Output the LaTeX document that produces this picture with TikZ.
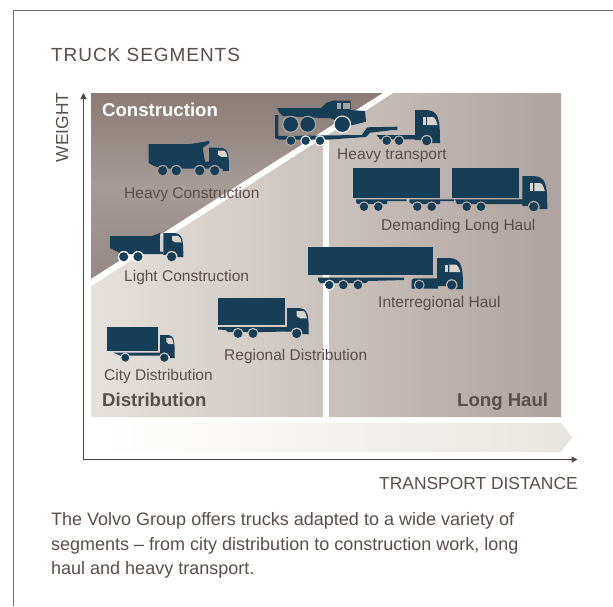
\documentclass[tikz,border=0pt]{standalone}
\usepackage{fontspec}
\setmainfont{Liberation Sans}
\usetikzlibrary{arrows.meta}
\definecolor{truckblue}{HTML}{163E57}
\definecolor{inktext}{HTML}{5A4E4C}
\definecolor{glasscol}{HTML}{D9D3CF}
\definecolor{palepanel}{HTML}{E6E1DC}
\definecolor{darkpanel}{HTML}{AEA39E}
\definecolor{bandend}{HTML}{E8E5DF}
\newcommand{\ringwheel}[4]{\fill[#4] (#1,#2) circle ({#3+1.2pt}); \fill[truckblue] (#1,#2) circle (#3);}
\newcommand{\wheel}[3]{\pgfmathtruncatemacro{\panelmix}{(561-#1)/4.7}\colorlet{ringcol}{palepanel!\panelmix!darkpanel}\ringwheel{#1}{#2}{#3}{ringcol}}
\tikzset{
	lab/.style={anchor=base west,inner sep=0pt,text=inktext,font=\fontsize{15.5}{18}\selectfont},
	head/.style={lab,font=\fontsize{18.6}{22}\bfseries\selectfont},
	axislab/.style={lab,font=\fontsize{17.4}{20}\selectfont},
	bodytext/.style={lab,font=\fontsize{18}{22}\selectfont},
	axisline/.style={draw=inktext!90!black,line width=1.1pt,-{Triangle[length=6pt,width=6pt]}},
	pics/cabin/.style={code={
		\fill[truckblue] (0,0) -- (10,0) .. controls (17,0) and (21,2) .. (23,8) .. controls (24.5,13) and (25,18) .. (25,33) -- (17,33) -- (17,30) -- (0,30) -- cycle;
		\fill[glasscol] (7.5,7) -- (10.5,7) -- (10.5,15) -- (7.5,15) -- cycle;
		\fill[glasscol] (12,7) -- (17,7) .. controls (20,7) and (21,10) .. (22.5,15) -- (12,15) -- cycle;
	}},
	pics/smallcabin/.style={code={
		\fill[truckblue] (0,0) -- (12,0) .. controls (18,0) and (22,2) .. (23.5,8) .. controls (24.5,13) and (25,18) .. (25,33) -- (17,33) -- (17,30) -- (0,30) -- cycle;
		\fill[glasscol] (11,4) -- (19,4) .. controls (21,4) and (21.5,8) .. (23,13) -- (15,13) -- (11,10) -- cycle;
	}},
}
\begin{document}
\begin{tikzpicture}[x=1pt,y=-1pt]
	\useasboundingbox (0,0) rectangle (613,606);
	\fill[white] (0,0) rectangle (613,606);
	\draw[color=black!55,line width=1pt] (613,10.5) -- (13.5,10.5) -- (13.5,606);

	% background
	\shade[left color=white,right color=bandend] (103,423) -- (561,423) -- (572,437.5) -- (561,452) -- (103,452) -- cycle;
	\shade[left color=palepanel,right color=darkpanel] (91,286) -- (393,93) -- (561,93) -- (561,417) -- (91,417) -- cycle;
	\shade[top color={rgb,255:red,138;green,123;blue,118},bottom color={rgb,255:red,148;green,136;blue,131},middle color={rgb,255:red,165;green,155;blue,151}] (91,93) -- (383,93) -- (91,279) -- cycle;
	\fill[white] (91,279) -- (383,93) -- (393,93) -- (91,286) -- cycle;
	\fill[white] (323,136) rectangle (329,417);

	\draw[axisline] (83.5,460) -- (83.5,93);
	\draw[axisline] (83,459.5) -- (577.5,459.5);

	% heavy construction
	\fill[truckblue] (148.7,144) -- (190,144) -- (209,141) -- (209.3,143) -- (202.7,148) -- (205,161.5) -- (209,161.5) -- (209,168.5) -- (160,168.5) -- (152,165) -- (148.7,163) -- cycle;
	\pic[xscale=.8,yscale=.7] at (209,147.7) {smallcabin};
	\foreach \x in {162.7,176.3,199.7,214.7} {\ringwheel{\x}{170.7}{4.6pt}{fill={rgb,255:red,166;green,156;blue,152}}}

	% light construction
	\fill[truckblue] (110,236) -- (152,236) -- (160,233) -- (160,251.5) -- (163,251.5) -- (163,254) -- (122,254) -- (114,250) -- (110,248) -- cycle;
	\fill[glasscol] (160,235) rectangle (163.3,251);
	\pic[xscale=.8,yscale=.73] at (163.3,233) {smallcabin};
	\ringwheel{123.7}{256.7}{4.6pt}{fill=white}
	\ringwheel{138}{256.7}{4.6pt}{fill=white}
	\wheel{171.7}{256.7}{4.6pt}

	% heavy transport
	\fill[truckblue] (275,115) -- (278.3,115) -- (278.3,136) -- (361.7,135) -- (367.3,127.3) -- (397.3,126.7) -- (397.3,130) -- (393,130) -- (370,132.7) -- (366,137) -- (330,139.5) -- (279,139.5) -- (275,138) -- cycle;
	\fill[truckblue] (277,108) -- (321,108) -- (326,103) -- (330,101.5) -- (332.7,101) -- (332.7,100.7) -- (350.7,100.7) -- (350.7,110) -- (365,111) -- (366,121.7) -- (350,125.7) -- (330,118) -- (322,118) -- (283,116) -- (279,112) -- cycle;
	\fill[glasscol!70!truckblue] (336.7,102.7) rectangle (341,109.3);
	\fill[glasscol!70!truckblue] (342.5,102.7) rectangle (350,109.3);
	\ringwheel{290.7}{124.3}{7.3pt}{fill={rgb,255:red,176;green,168;blue,164}}
	\ringwheel{307.7}{124.3}{7.3pt}{fill={rgb,255:red,176;green,168;blue,164}}
	\ringwheel{342.3}{124.3}{7.6pt}{fill=white}
	\ringwheel{291}{140.7}{4.2pt}{fill={rgb,255:red,176;green,168;blue,164}}
	\ringwheel{305.7}{140.7}{4.2pt}{fill=white}
	\ringwheel{320}{140.7}{4.2pt}{fill=white}
	\fill[truckblue] (376.7,135) -- (415,135) -- (415,139.3) -- (380,139.3) -- cycle;
	\pic at (415,110) {cabin};
	\wheel{386.7}{140.7}{4.2pt}
	\wheel{399}{140.7}{4.2pt}
	\wheel{426.7}{140.7}{4.6pt}

	% demanding long haul
	\fill[truckblue] (353,168) rectangle (440,197.7);
	\fill[truckblue] (452,168) rectangle (519,197.7);
	\fill[truckblue] (356,199.3) -- (406.7,199.3) -- (406.7,201) -- (387,201) -- (387,204) -- (358,204) -- (356,202) -- cycle;
	\fill[truckblue] (409.3,199.3) -- (454,199.3) -- (454,201) -- (440,201) -- (440,204) -- (412,204) -- (409.3,202) -- cycle;
	\fill[truckblue] (455,199.3) -- (523,199.3) -- (523,204) -- (457,204) -- cycle;
	\pic at (522.3,176) {cabin};
	\foreach \x in {364,378.3,417.3,431.7,466.7,481} {\wheel{\x}{206.7}{4.2pt}}
	\wheel{533.7}{206.7}{4.6pt}

	% interregional haul
	\fill[truckblue] (308,246.7) rectangle (433.3,275);
	\fill[truckblue] (318,277.7) -- (404,277.7) -- (404,280) -- (368,281) -- (366,283) -- (320,283) -- (318,280) -- cycle;
	\pic[xscale=1.04,yscale=.94] at (437,258) {cabin};
	\fill[truckblue] (411.7,288.5) -- (411.7,280) -- (414,278.3) -- (438,278.3) -- (438,288.5) -- cycle;
	\ringwheel{329.3}{285}{4.2pt}{fill=white}
	\wheel{343.3}{285}{4.2pt}
	\wheel{358}{285}{4.2pt}
	\wheel{419.3}{285}{4.2pt}
	\wheel{451.7}{285}{4.6pt}

	% regional distribution
	\fill[truckblue] (218,298) rectangle (285,325);
	\fill[truckblue] (218,327) -- (288,327) -- (288,331.5) -- (263,332) -- (228,332) -- (226,330) -- (218,329.5) -- cycle;
	\pic[xscale=.87,yscale=.79] at (287,308) {smallcabin};
	\wheel{238}{333.5}{4.4pt}
	\wheel{253}{333.5}{4.4pt}
	\wheel{296.7}{333.5}{4.6pt}

	% city distribution
	\fill[truckblue] (107,327) rectangle (158,351);
	\fill[truckblue] (113,352.5) -- (161,352.5) -- (161,355.5) -- (133,355.5) -- (120,355.5) -- cycle;
	\pic[xscale=.59,yscale=.7] at (160,335) {smallcabin};
	\wheel{125.3}{357.7}{3.9pt}
	\wheel{164.3}{357.7}{4.1pt}

	% text
	\node[axislab,font=\fontsize{19}{22}\addfontfeature{LetterSpace=5}\selectfont] (title) at (51,61) {TRUCK SEGMENTS};
	\node[axislab,rotate=90] (weight) at (68,162.5) {WEIGHT};
	\node[axislab] (distance) at (379,489) {TRANSPORT DISTANCE};
	\node[head,text=white] (construction) at (102,116.7) {Construction};
	\node[head] (distribution) at (102,406.7) {Distribution};
	\node[head] (longhaul) at (457,406.7) {Long Haul};
	\node[lab] (heavycon) at (124,198) {Heavy Construction};
	\node[lab] (lightcon) at (124,281.5) {Light Construction};
	\node[lab] (city) at (104,380.5) {City Distribution};
	\node[lab] (regional) at (224,360) {Regional Distribution};
	\node[lab] (heavytrans) at (337,159) {Heavy transport};
	\node[lab] (demanding) at (381,230) {Demanding Long Haul};
	\node[lab] (interregional) at (378,307.7) {Interregional Haul};
	\node[bodytext] (line1) at (51,525.7) {The Volvo Group offers trucks adapted to a wide variety of};
	\node[bodytext] (line2) at (51,550) {segments – from city distribution to construction work, long};
	\node[bodytext] (line3) at (51,574) {haul and heavy transport.};
\end{tikzpicture}
\end{document}
